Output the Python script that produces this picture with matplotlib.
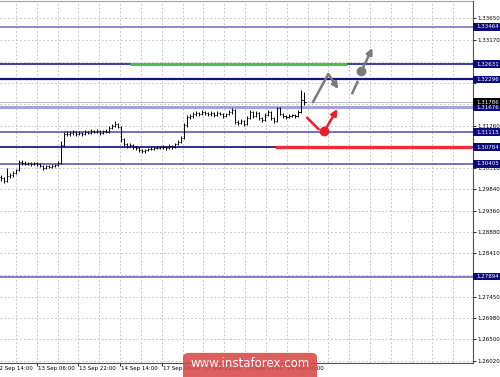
import numpy as np
import matplotlib
matplotlib.use('Agg')
import matplotlib.pyplot as plt
from matplotlib import transforms
from matplotlib.patches import Rectangle, FancyBboxPatch

# hourly bars
first_open = 1.3012
closes = [1.3009, 1.3003, 1.3014, 1.3016, 1.3020, 1.3027, 1.3045, 1.3043, 1.3041, 1.3043,
          1.3041, 1.3043, 1.3041, 1.3036, 1.3032, 1.3036, 1.3034, 1.3036, 1.3038, 1.3043,
          1.3083, 1.3107, 1.3107, 1.3110, 1.3112, 1.3107, 1.3110, 1.3107, 1.3112, 1.3110,
          1.3114, 1.3112, 1.3114, 1.3110, 1.3114, 1.3112, 1.3121, 1.3125, 1.3130, 1.3123,
          1.3096, 1.3085, 1.3081, 1.3083, 1.3078, 1.3076, 1.3072, 1.3069, 1.3072, 1.3074,
          1.3074, 1.3076, 1.3076, 1.3078, 1.3078, 1.3076, 1.3081, 1.3078, 1.3085, 1.3090,
          1.3098, 1.3127, 1.3145, 1.3148, 1.3152, 1.3154, 1.3152, 1.3156, 1.3154, 1.3152,
          1.3154, 1.3150, 1.3154, 1.3152, 1.3148, 1.3152, 1.3156, 1.3161, 1.3134, 1.3132,
          1.3136, 1.3130, 1.3143, 1.3156, 1.3148, 1.3154, 1.3143, 1.3139, 1.3150, 1.3156,
          1.3143, 1.3136, 1.3165, 1.3152, 1.3148, 1.3145, 1.3148, 1.3150, 1.3148, 1.3156,
          1.3183, 1.3179]
highs = [1.3016, 1.3012, 1.3031, 1.3021, 1.3024, 1.3030, 1.3049, 1.3049, 1.3047, 1.3046,
         1.3045, 1.3046, 1.3045, 1.3043, 1.3038, 1.3039, 1.3039, 1.3040, 1.3041, 1.3047,
         1.3092, 1.3112, 1.3113, 1.3115, 1.3116, 1.3114, 1.3114, 1.3112, 1.3116, 1.3115,
         1.3118, 1.3117, 1.3118, 1.3116, 1.3117, 1.3118, 1.3125, 1.3130, 1.3137, 1.3133,
         1.3126, 1.3099, 1.3088, 1.3087, 1.3086, 1.3081, 1.3078, 1.3075, 1.3075, 1.3077,
         1.3078, 1.3079, 1.3080, 1.3081, 1.3082, 1.3081, 1.3084, 1.3083, 1.3088, 1.3094,
         1.3103, 1.3131, 1.3150, 1.3153, 1.3156, 1.3158, 1.3157, 1.3160, 1.3159, 1.3157,
         1.3158, 1.3157, 1.3158, 1.3157, 1.3155, 1.3155, 1.3160, 1.3165, 1.3163, 1.3139,
         1.3140, 1.3139, 1.3147, 1.3160, 1.3158, 1.3158, 1.3156, 1.3146, 1.3154, 1.3160,
         1.3158, 1.3146, 1.3168, 1.3167, 1.3155, 1.3150, 1.3151, 1.3153, 1.3152, 1.3160,
         1.3206, 1.3201]
lows = [1.3003, 1.2999, 1.3001, 1.3009, 1.3012, 1.3018, 1.3025, 1.3039, 1.3038, 1.3038,
        1.3037, 1.3039, 1.3037, 1.3033, 1.3027, 1.3030, 1.3031, 1.3032, 1.3034, 1.3036,
        1.3040, 1.3080, 1.3102, 1.3104, 1.3106, 1.3104, 1.3105, 1.3104, 1.3105, 1.3107,
        1.3108, 1.3109, 1.3110, 1.3106, 1.3108, 1.3109, 1.3110, 1.3118, 1.3122, 1.3120,
        1.3090, 1.3081, 1.3076, 1.3078, 1.3074, 1.3071, 1.3068, 1.3065, 1.3066, 1.3069,
        1.3071, 1.3071, 1.3073, 1.3073, 1.3075, 1.3072, 1.3074, 1.3075, 1.3076, 1.3083,
        1.3087, 1.3096, 1.3124, 1.3141, 1.3144, 1.3148, 1.3147, 1.3149, 1.3150, 1.3148,
        1.3148, 1.3146, 1.3147, 1.3149, 1.3143, 1.3145, 1.3150, 1.3153, 1.3130, 1.3127,
        1.3129, 1.3125, 1.3128, 1.3140, 1.3144, 1.3145, 1.3139, 1.3134, 1.3137, 1.3147,
        1.3139, 1.3132, 1.3134, 1.3149, 1.3144, 1.3141, 1.3143, 1.3145, 1.3144, 1.3146,
        1.3154, 1.3172]

levels = [1.33464, 1.32631, 1.32296, 1.31676, 1.31115, 1.30784, 1.30405, 1.27894]
level_colors = ['#8a8ad0', '#1c1c8c', '#14147e', '#a4a4dc', '#4a4aa8', '#202088', '#5c5cb4', '#6a6ac0']
level_widths = [1.4, 1.2, 1.6, 2.2, 1.1, 1.3, 1.2, 1.2]
price_now = 1.31786

price_ticks = [1.26020, 1.26500, 1.26980, 1.27450, 1.27930, 1.28410, 1.28880, 1.29360, 1.29840,
               1.30310, 1.30790, 1.31260, 1.31740, 1.32220, 1.32690, 1.33170, 1.33650]
# tick labels that sit under a level box are not shown on the scale
hidden_ticks = [1.27930, 1.30790, 1.31740, 1.32220, 1.32690]
time_labels = ['12 Sep 14:00', '13 Sep 06:00', '13 Sep 22:00', '14 Sep 14:00',
               '17 Sep 06:00', '17 Sep 22:00', '18 Sep 14:00', '19 Sep 06:00']

# forecast drawings (bar index, price)
resist_zone = (43, 115.3, 1.32631)     # green
support_zone = (91.3, 157, 1.30784)    # red
gray_path_x = [103.7, 109.0, 112.3]
gray_path_y = [1.31765, 1.32412, 1.32077]
gray_dash_x = [117.0, 118.7]
gray_dash_y = [1.31988, 1.32234]
gray_dot = (120.0, 1.32479)
gray_tip = (123.7, 1.32992)
red_line_x = [102.0, 105.7]
red_line_y = [1.31431, 1.31185]
red_dot = (107.7, 1.31141)
red_tip = (112.0, 1.31631)

fig = plt.figure(figsize=(5.0, 3.77), dpi=100)
ax = fig.add_axes([0, 14 / 377, 472.5 / 500, 362 / 377])
ax.set_xlim(-1 / 3, 157)
ax.set_ylim(1.25967, 1.34040)

grid_kw = dict(color='#c8c8c8', lw=0.7, ls=(0, (2, 2)), zorder=0)
for gx in np.arange(5, 157, 6.933):
    ax.axvline(gx, **grid_kw)
for gy in price_ticks:
    ax.axhline(gy, **grid_kw)

ax.axhline(price_now, color='#c0c0c0', lw=0.8, zorder=1)
for lv, c, w in zip(levels, level_colors, level_widths):
    ax.axhline(lv, color=c, lw=w, zorder=2)

ax.hlines(resist_zone[2], resist_zone[0], resist_zone[1], color='#4cc04c', lw=2.2, zorder=3)
ax.hlines(support_zone[2], support_zone[0], support_zone[1], color='#e8303c', lw=2.4, zorder=3)

x = np.arange(len(closes))
opens = [first_open] + closes[:-1]
ax.vlines(x, lows, highs, color='black', lw=0.7, zorder=4)
ax.hlines(opens, x - 0.4, x, color='black', lw=0.7, zorder=4)
ax.hlines(closes, x, x + 0.4, color='black', lw=0.7, zorder=4)

gray = '#7a7a7a'
arrow_kw = dict(arrowstyle='-|>', lw=1.8, mutation_scale=9, shrinkA=0, shrinkB=0)
ax.plot(gray_path_x[:2], gray_path_y[:2], color=gray, lw=1.8, solid_capstyle='butt', zorder=6)
ax.annotate('', xy=(gray_path_x[2], gray_path_y[2]), xytext=(gray_path_x[1], gray_path_y[1]),
            arrowprops=dict(color=gray, **arrow_kw), zorder=6)
ax.plot(gray_dash_x, gray_dash_y, color=gray, lw=1.8, zorder=6)
ax.plot(*gray_dot, 'o', color=gray, ms=6, zorder=6)
ax.annotate('', xy=gray_tip, xytext=gray_dot, arrowprops=dict(color=gray, **arrow_kw), zorder=6)

red = '#e8202c'
ax.plot(red_line_x, red_line_y, color=red, lw=1.8, zorder=6)
ax.plot(*red_dot, 'o', color=red, ms=6, zorder=6)
ax.annotate('', xy=red_tip, xytext=red_dot, arrowprops=dict(color=red, **arrow_kw), zorder=6)

# axes frame like the terminal
ax.spines['left'].set_visible(False)
ax.spines['top'].set_color('#a0a0a0')
ax.spines['right'].set_color('#505050')
ax.spines['bottom'].set_color('#505050')

ax.yaxis.tick_right()
ax.set_yticks(price_ticks)
ax.set_yticklabels(['' if p in hidden_ticks else '%.5f' % p for p in price_ticks])
ax.tick_params(axis='y', length=2, width=0.6, pad=1.5, labelsize=4, colors='black')

tick_pos = [-2 + 13.87 * k for k in range(len(time_labels))]
ax.set_xticks(tick_pos[1:])
ax.set_xticklabels([])
ax.tick_params(axis='x', length=2, width=0.6, colors='black')
xblend = transforms.blended_transform_factory(ax.transData, ax.transAxes)
for tp, lab in zip(tick_pos, time_labels):
    ax.text(tp + 0.3, -0.008, lab, transform=xblend, fontsize=4, ha='left', va='top',
            clip_on=False)

# price labels on the scale
blend = transforms.blended_transform_factory(fig.transFigure, ax.transData)
box_h = 0.00165
for lv in levels + [price_now]:
    fc = 'black' if lv == price_now else '#0a0a78'
    ax.add_patch(Rectangle((473 / 500, lv - box_h / 2), 27 / 500, box_h, transform=blend,
                           facecolor=fc, edgecolor='none', clip_on=False, zorder=8))
    ax.text(476 / 500, lv, '%.5f' % lv, transform=blend, fontsize=4, color='white',
            va='center', ha='left', clip_on=False, zorder=9)

# watermark
fig.patches.append(FancyBboxPatch((183 / 500, -0.03), 134 / 500, 0.094,
                                  boxstyle='round,pad=0,rounding_size=0.012',
                                  transform=fig.transFigure, facecolor='#d84848',
                                  edgecolor='none', alpha=0.88, zorder=10))
fig.text(0.5, 0.036, 'www.instaforex.com', color='white', fontsize=8.5,
         ha='center', va='center', zorder=11)

fig.savefig('out.png', dpi=100)
